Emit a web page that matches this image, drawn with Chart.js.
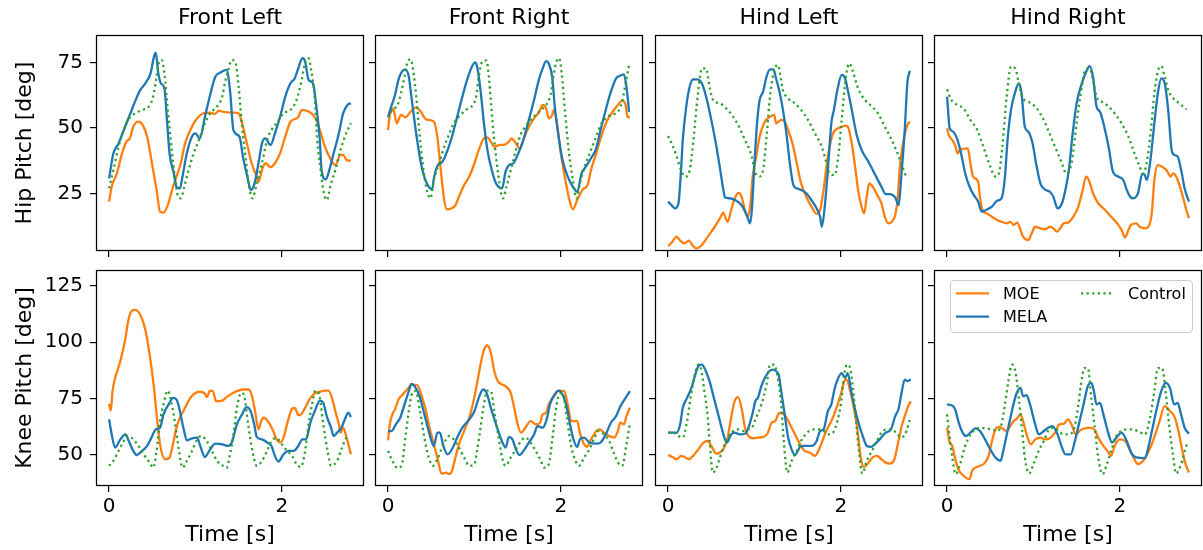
<!DOCTYPE html>
<html>
<head>
<meta charset="utf-8">
<script src="https://cdn.jsdelivr.net/npm/chart.js@4.4.1/dist/chart.umd.min.js"></script>
<style>
  body { margin: 0; width: 1203px; height: 550px; overflow: hidden; background: #fff; position: relative; font-family: 'DejaVu Sans', sans-serif; }
  canvas { position: absolute; }
  #legend { position: absolute; left: 950px; top: 280px; width: 243px; height: 53px; box-sizing: border-box;
            border: 1px solid #cccccc; border-radius: 4px; background: rgba(255,255,255,0.8); z-index: 5; }
</style>
</head>
<body>
<div id="legend"></div>
<script>
// ---- data: [time s, angle deg] ----
const timeTicks = [0, 2];
const hipTicks = [25, 50, 75];
const kneeTicks = [50, 75, 100, 125];
const legTitles = ['Front Left', 'Front Right', 'Hind Left', 'Hind Right'];
const rowLabels = ['Hip Pitch [deg]', 'Knee Pitch [deg]'];
const seriesNames = ['MOE', 'MELA', 'Control'];
const seriesColors = ['#ff7f0e', '#1f77b4', '#2ca02c'];

const flHipMoe = [[0,21.8],[0.03,27.5],[0.09,32.6],[0.15,40.3],[0.2,44.8],[0.24,46],[0.28,50.5],[0.34,52.4],[0.39,51.1],[0.44,46.7],[0.49,37.7],[0.55,26.3],[0.59,18],[0.63,17.6],[0.68,20.5],[0.73,26.3],[0.78,31.4],[0.83,36.5],[0.88,44.1],[0.94,49.2],[1.02,53.7],[1.09,55.6],[1.17,55.9],[1.22,55.3],[1.27,56.6],[1.32,56.2],[1.44,55.9],[1.5,55.6],[1.55,50.5],[1.6,43.5],[1.65,36.5],[1.71,31.4],[1.73,29.4],[1.77,33.9],[1.81,36.5],[1.87,35],[1.92,36.5],[1.98,40.3],[2.04,46.7],[2.1,52.4],[2.19,54.1],[2.23,56.9],[2.33,55.9],[2.39,53.7],[2.44,49.2],[2.5,42.8],[2.56,38.4],[2.62,35.8],[2.68,39.7],[2.71,39.7],[2.75,37.7],[2.8,37.5]];
const flHipMela = [[0,30.7],[0.05,40.3],[0.11,44.1],[0.17,49.2],[0.24,55],[0.3,60.1],[0.36,64.5],[0.42,67.1],[0.48,70.9],[0.52,77.3],[0.54,78.8],[0.57,70.9],[0.6,67.1],[0.64,65.2],[0.67,53.1],[0.7,40.3],[0.75,32.6],[0.78,27.5],[0.82,26.9],[0.85,31.4],[0.9,40.3],[0.96,46.7],[1,47.9],[1.05,46],[1.11,54.3],[1.17,62.6],[1.23,69.6],[1.29,71.2],[1.36,72.2],[1.4,64.5],[1.44,49.2],[1.51,46.7],[1.55,39],[1.6,31.4],[1.64,26.3],[1.68,28.2],[1.73,36.5],[1.77,44.1],[1.81,46],[1.87,43.5],[1.92,47.9],[1.98,54.3],[2.04,62],[2.1,67.1],[2.15,69],[2.19,72.8],[2.24,76.7],[2.27,75.4],[2.31,68.4],[2.36,67.1],[2.4,58.2],[2.44,45.4],[2.46,33.9],[2.51,30.3],[2.55,33.9],[2.6,40.3],[2.66,47.9],[2.71,55.6],[2.76,58.8],[2.8,59.4]];
const flHipCtrl = [[0,26.9],[0.05,33.9],[0.11,42.8],[0.17,49.2],[0.22,53.1],[0.3,55.6],[0.38,56.9],[0.46,58.2],[0.51,62],[0.55,69.6],[0.58,75.4],[0.61,76],[0.64,70.9],[0.68,56.9],[0.73,40.3],[0.76,31.4],[0.8,23.7],[0.83,23.1],[0.87,27.5],[0.92,33.9],[0.98,40.3],[1.04,45.4],[1.11,51.8],[1.17,55.6],[1.25,58.2],[1.31,62],[1.34,67.1],[1.38,72.2],[1.42,76],[1.46,75.4],[1.5,65.8],[1.54,50.5],[1.58,39],[1.61,30.1],[1.66,23.1],[1.71,28.8],[1.77,36.5],[1.83,45.4],[1.88,49.2],[1.94,51.8],[2.02,55.6],[2.1,56.9],[2.17,60.7],[2.23,68.4],[2.27,75.4],[2.31,76.7],[2.34,72.2],[2.38,62],[2.41,45.4],[2.45,33.9],[2.48,26.3],[2.52,22.4],[2.57,28.8],[2.62,33.9],[2.68,41.6],[2.73,46.7],[2.8,51.8]];

const frHipMoe = [[0,49.2],[0.02,55],[0.06,57.5],[0.1,51.8],[0.15,55],[0.2,54.1],[0.26,56.2],[0.32,57.9],[0.38,56.2],[0.44,53.3],[0.53,52.4],[0.57,46.7],[0.61,33.9],[0.65,22.4],[0.68,18.9],[0.73,19.2],[0.78,20.5],[0.82,23.7],[0.88,28.2],[0.94,31.4],[1,36.5],[1.05,41.6],[1.11,46],[1.15,46.4],[1.19,44.8],[1.23,42.8],[1.29,43.5],[1.34,43.5],[1.4,44.8],[1.43,46],[1.48,44.1],[1.52,42.2],[1.58,46.7],[1.63,50.5],[1.69,53.7],[1.75,56.2],[1.79,58.8],[1.83,57.5],[1.86,53.7],[1.9,55],[1.92,56.9],[1.95,53.1],[2,40.3],[2.06,28.8],[2.1,22.4],[2.14,18.9],[2.19,22.4],[2.25,26.3],[2.31,28.2],[2.35,33.9],[2.41,40.3],[2.48,48],[2.54,53.1],[2.6,56.2],[2.66,58.8],[2.71,60.5],[2.75,58.8],[2.77,54.3],[2.8,54.1]];
const frHipMela = [[0,54.1],[0.03,57.5],[0.08,62.6],[0.12,68.4],[0.16,71.6],[0.2,72.4],[0.24,69.6],[0.27,62],[0.32,49.2],[0.38,36.5],[0.44,29.4],[0.51,26.5],[0.53,30.7],[0.57,35.4],[0.63,37.1],[0.69,41.6],[0.75,47.9],[0.8,54.3],[0.86,62],[0.92,69],[0.98,74.1],[1.01,75.1],[1.03,73.5],[1.07,64.5],[1.11,51.8],[1.15,41.6],[1.2,33.9],[1.25,28.8],[1.32,26.9],[1.36,33.3],[1.4,35.8],[1.45,36.5],[1.5,39.7],[1.56,44.8],[1.63,53.1],[1.69,60.7],[1.75,69],[1.79,72.8],[1.83,75.6],[1.86,74.7],[1.9,69.6],[1.93,58.2],[1.98,45.4],[2.02,37.7],[2.08,31.4],[2.14,27.5],[2.19,25.6],[2.24,32.6],[2.29,35.2],[2.35,38.4],[2.41,42.2],[2.46,49.2],[2.52,56.9],[2.58,63.9],[2.64,69],[2.68,69.9],[2.73,70.5],[2.76,65.8],[2.79,56.2]];
const frHipCtrl = [[0,54.1],[0.05,56.9],[0.11,58.8],[0.15,63.3],[0.19,69.6],[0.22,74.7],[0.26,76.3],[0.29,72.2],[0.33,60.7],[0.36,49.2],[0.4,36.5],[0.44,27.5],[0.49,23.1],[0.53,30.1],[0.59,36.5],[0.65,42.8],[0.71,47.9],[0.76,51.8],[0.82,54.3],[0.9,56.9],[0.98,58.8],[1.02,62],[1.05,69.6],[1.09,75.4],[1.14,75.8],[1.17,68.4],[1.21,51.8],[1.25,39],[1.29,28.8],[1.33,23.1],[1.37,27.5],[1.42,33.9],[1.48,41.6],[1.54,47.9],[1.59,50.5],[1.65,53.1],[1.71,55],[1.77,56.9],[1.83,58.8],[1.88,62.6],[1.92,70.9],[1.95,75.4],[1.98,76.7],[2.01,70.9],[2.05,55.6],[2.1,39],[2.14,30.1],[2.18,23.1],[2.23,30.1],[2.29,36.5],[2.35,41.6],[2.41,46.7],[2.46,51.1],[2.52,53.7],[2.58,55],[2.66,56.2],[2.71,60.1],[2.75,67.1],[2.79,74.1]];

const hlHipMoe = [[0,4.8],[0.04,6.1],[0.1,8.4],[0.14,6.9],[0.19,5.8],[0.24,6.9],[0.29,4.8],[0.33,3.9],[0.39,5.2],[0.46,8.4],[0.54,12.2],[0.6,15.4],[0.64,17.6],[0.66,16],[0.69,14.1],[0.73,18.6],[0.78,23.7],[0.82,25.2],[0.85,23.7],[0.89,18.6],[0.92,16],[0.95,19.9],[0.98,31.4],[1.02,39],[1.06,46.7],[1.12,52.4],[1.18,54.3],[1.23,55],[1.25,51.8],[1.31,53.1],[1.35,52.4],[1.39,49.2],[1.44,44.1],[1.49,36.5],[1.54,28.8],[1.6,23.7],[1.66,19.9],[1.72,17.1],[1.76,18.6],[1.8,26.3],[1.85,39],[1.91,47.9],[1.97,49.9],[2.05,50.8],[2.08,50.5],[2.12,45.4],[2.16,36.5],[2.2,26.3],[2.24,19.9],[2.27,17.3],[2.3,23.7],[2.33,28.8],[2.37,27.5],[2.41,25],[2.47,21.2],[2.51,16],[2.55,13.5],[2.59,14.1],[2.63,16.7],[2.66,23.7],[2.68,33.9],[2.72,44.1],[2.77,51.1],[2.8,52.4]];
const hlHipMela = [[0,21.8],[0.04,20.5],[0.08,19.2],[0.12,21.2],[0.15,33.9],[0.17,45.4],[0.21,58.2],[0.25,65.8],[0.29,68.6],[0.34,68.6],[0.39,67.1],[0.44,62],[0.5,53.1],[0.56,42.8],[0.61,32.6],[0.64,26.3],[0.66,23.4],[0.71,23.1],[0.79,22.2],[0.85,20.5],[0.91,16.7],[0.95,13.5],[0.97,18.6],[1,36.5],[1.03,51.8],[1.06,60.7],[1.1,63.9],[1.14,69.6],[1.18,72.4],[1.22,72.4],[1.25,69],[1.29,63.9],[1.33,56.9],[1.37,47.9],[1.41,36.5],[1.45,28.2],[1.49,26.9],[1.54,26.3],[1.6,25],[1.66,22.4],[1.72,19.2],[1.76,16],[1.78,12.2],[1.81,18.6],[1.85,33.9],[1.89,51.8],[1.92,56.9],[1.96,64.5],[2.01,70.3],[2.05,69],[2.08,64.5],[2.12,58.2],[2.18,47.9],[2.24,41.6],[2.32,37.1],[2.39,32.6],[2.47,27.5],[2.52,24.7],[2.57,24.7],[2.63,23.4],[2.67,20.5],[2.7,31.4],[2.74,49.2],[2.77,67.1],[2.8,71.9]];
const hlHipCtrl = [[0,46.9],[0.05,43.5],[0.1,39],[0.15,33.9],[0.2,31.4],[0.25,33.9],[0.29,44.1],[0.33,58.2],[0.37,69.6],[0.39,72.8],[0.44,72.8],[0.48,65.8],[0.52,60.7],[0.6,59.4],[0.69,56.9],[0.79,52.4],[0.89,45.4],[0.97,39],[1,33.9],[1.05,31.4],[1.1,33.9],[1.14,46.7],[1.18,62],[1.22,70.9],[1.27,74.1],[1.33,64.5],[1.39,61.3],[1.47,59.4],[1.54,56.9],[1.62,53.1],[1.7,47.9],[1.78,42.8],[1.83,37.1],[1.87,32.6],[1.93,32],[1.97,39],[2.01,53.1],[2.05,67.1],[2.08,73.5],[2.1,74.7],[2.14,71.6],[2.2,65.2],[2.28,60.7],[2.36,58.2],[2.43,55.6],[2.51,50.5],[2.59,45.4],[2.64,41.6],[2.7,36.5],[2.74,32.6],[2.78,31.1]];

const hrHipMoe = [[0,49.9],[0.02,47.3],[0.06,45.4],[0.1,42.8],[0.12,40.3],[0.15,41.6],[0.24,42.2],[0.27,36.5],[0.3,31.4],[0.36,29.4],[0.38,23.7],[0.41,18.6],[0.46,17.3],[0.52,16],[0.58,14.8],[0.63,14.1],[0.69,13.5],[0.73,14.1],[0.77,12.9],[0.81,13.8],[0.85,11],[0.88,8.4],[0.94,7.1],[0.98,9.7],[1.02,12.2],[1.08,11.6],[1.13,11.2],[1.19,12.2],[1.23,11.6],[1.27,10.3],[1.31,11.6],[1.35,13.5],[1.4,13.8],[1.46,16],[1.52,19.9],[1.57,26.3],[1.61,31.4],[1.64,30.1],[1.69,25],[1.75,21.2],[1.83,18.6],[1.9,16],[1.97,13.5],[2.02,11],[2.06,8.1],[2.1,11],[2.13,12.9],[2.19,13.5],[2.23,12.2],[2.29,11.6],[2.33,12.2],[2.37,17.3],[2.4,30.1],[2.44,35.8],[2.49,35.2],[2.54,33.9],[2.59,31.4],[2.62,32.6],[2.67,30.1],[2.73,23.7],[2.77,18.6],[2.8,15.4]];
const hrHipMela = [[0,62],[0.03,49.9],[0.07,48.6],[0.12,45.4],[0.17,39],[0.21,32.6],[0.26,27.5],[0.31,24.3],[0.36,21.8],[0.4,18],[0.45,18.6],[0.52,19.9],[0.58,22.2],[0.63,23.1],[0.67,31.4],[0.7,45.4],[0.74,56.9],[0.79,63.9],[0.83,67.1],[0.86,63.9],[0.9,50.5],[0.94,48.6],[0.99,44.1],[1.03,36.5],[1.08,28.8],[1.13,26.5],[1.19,25.6],[1.23,23.7],[1.28,19.2],[1.33,21.2],[1.37,26.3],[1.41,33.9],[1.45,46.7],[1.5,59.4],[1.56,67.1],[1.62,72.2],[1.65,73.7],[1.69,69.6],[1.73,58.2],[1.77,56.2],[1.82,50.5],[1.87,42.8],[1.92,33.3],[1.98,31.4],[2.04,30.1],[2.08,26.3],[2.12,23.7],[2.15,23.1],[2.21,25],[2.26,32.4],[2.29,32],[2.31,30.1],[2.35,36.5],[2.4,51.8],[2.44,63.3],[2.48,69],[2.52,67.1],[2.56,56.9],[2.6,41.6],[2.63,39.7],[2.67,39],[2.71,33.9],[2.75,26.9],[2.8,21.8]];
const hrHipCtrl = [[0,64.8],[0.05,60.7],[0.12,58.8],[0.19,57.5],[0.27,53.1],[0.35,49.2],[0.42,42.8],[0.5,35.2],[0.56,31.4],[0.6,32.6],[0.64,42.8],[0.69,62],[0.74,73.5],[0.79,72.8],[0.83,67.1],[0.88,61.3],[0.94,60.1],[1.02,58.2],[1.1,54.3],[1.17,49.2],[1.25,42.8],[1.33,36.5],[1.38,32.6],[1.44,36.5],[1.5,51.8],[1.56,65.8],[1.6,72.2],[1.65,72.8],[1.69,68.4],[1.73,62],[1.79,60.1],[1.87,58.2],[1.94,55.6],[2.02,51.8],[2.1,46.7],[2.17,40.3],[2.23,35.2],[2.27,32.6],[2.31,36.5],[2.36,49.2],[2.4,63.3],[2.44,71.6],[2.48,73.7],[2.52,69.6],[2.56,64.5],[2.62,61.3],[2.69,59.4],[2.77,57.1]];

const flKneeMoe = [[0,72.7],[0.02,69.7],[0.04,78.3],[0.07,84.1],[0.13,91.5],[0.19,101.8],[0.22,109.1],[0.26,113.8],[0.3,114.3],[0.36,112.1],[0.42,105.4],[0.47,94.4],[0.52,79.7],[0.55,68],[0.59,54.7],[0.65,48.1],[0.7,48.9],[0.74,54.7],[0.78,62.1],[0.82,66.5],[0.88,70.9],[0.94,75.3],[1,77.5],[1.05,78],[1.11,77.1],[1.13,75.6],[1.17,78.5],[1.2,78.3],[1.24,73.8],[1.31,74.1],[1.36,75.6],[1.42,77.1],[1.48,78.3],[1.55,79],[1.61,79],[1.65,76.8],[1.69,69.4],[1.73,61.3],[1.76,65],[1.79,66.5],[1.85,64.3],[1.9,60.6],[1.94,56.9],[1.98,55.5],[2.02,57.7],[2.07,65],[2.12,70.6],[2.15,70.9],[2.19,67.7],[2.21,67.7],[2.27,70.9],[2.33,75.3],[2.39,77.5],[2.44,78],[2.5,78.5],[2.54,78.5],[2.58,75.3],[2.62,69.4],[2.66,63.6],[2.68,59.9],[2.71,62.1],[2.75,57.7],[2.8,50.3]];
const flKneeMela = [[0,65.8],[0.03,59.1],[0.07,53.3],[0.13,56.9],[0.19,59.1],[0.22,56.9],[0.28,51.8],[0.32,50],[0.38,51.8],[0.44,54],[0.49,57.7],[0.54,61.3],[0.59,62.1],[0.63,68],[0.69,72.4],[0.74,75.3],[0.78,74.6],[0.82,69.4],[0.86,62.1],[0.9,56.5],[0.96,57.4],[1.02,57.7],[1.05,54.7],[1.11,49.1],[1.16,51.8],[1.23,55],[1.31,54.7],[1.38,54],[1.42,55.5],[1.48,63.6],[1.54,68],[1.59,71.2],[1.64,69.4],[1.68,63.6],[1.71,58],[1.77,56.9],[1.83,55.5],[1.88,54],[1.92,49.6],[1.96,47.1],[2.02,50.3],[2.08,51.8],[2.14,51.8],[2.19,54],[2.24,56.9],[2.28,56.9],[2.33,64.3],[2.39,70.2],[2.44,74.1],[2.48,73.1],[2.52,67.2],[2.57,62.1],[2.6,58.4],[2.64,59.9],[2.69,62.1],[2.73,65.8],[2.77,68.7],[2.8,66.8]];
const flKneeCtrl = [[0,45.2],[0.05,47.4],[0.11,51.8],[0.17,56.2],[0.22,58.4],[0.28,56.9],[0.34,54],[0.4,50.3],[0.47,46.6],[0.51,44.4],[0.55,51.8],[0.59,65],[0.63,72.4],[0.68,78.5],[0.71,75.3],[0.76,65],[0.81,51.8],[0.85,44.4],[0.9,47.4],[0.96,51.8],[1.02,56.9],[1.07,58.4],[1.13,56.2],[1.19,51.8],[1.25,47.4],[1.32,45.2],[1.36,44.2],[1.4,50.3],[1.44,59.1],[1.48,70.9],[1.53,77.5],[1.56,76.8],[1.61,63.6],[1.66,51.8],[1.71,45.2],[1.77,47.4],[1.83,51.8],[1.88,56.2],[1.94,57.4],[2,54.7],[2.06,51.8],[2.12,49.6],[2.17,45.9],[2.22,44.7],[2.27,51.8],[2.31,63.6],[2.35,72.4],[2.39,78.5],[2.44,75.3],[2.48,63.6],[2.53,51.8],[2.57,45.2],[2.64,47.4],[2.69,52.5],[2.75,57.7],[2.79,58]];

const frKneeMoe = [[0,56.5],[0.02,63.6],[0.05,68],[0.08,70.2],[0.12,74.6],[0.17,76.8],[0.22,79],[0.28,81.2],[0.34,80.9],[0.39,76],[0.44,69.4],[0.47,63.6],[0.52,56.2],[0.57,48.9],[0.62,41.8],[0.67,42.2],[0.71,41.5],[0.74,43],[0.78,48.9],[0.82,54.7],[0.88,60.6],[0.94,66.5],[0.98,72.4],[1.02,79.7],[1.07,90],[1.11,96.6],[1.15,98.5],[1.19,95.2],[1.23,87.1],[1.27,82.7],[1.32,81.2],[1.36,80.5],[1.42,77.5],[1.46,70.9],[1.5,63.6],[1.54,59.9],[1.59,62.1],[1.65,65],[1.71,63.6],[1.76,64.3],[1.79,68],[1.83,68.7],[1.86,72.4],[1.92,76],[1.98,78.5],[2.04,78.3],[2.08,72.4],[2.12,65],[2.19,65],[2.22,59.9],[2.26,55.5],[2.3,53.6],[2.35,56.9],[2.41,60.6],[2.45,61.3],[2.5,59.9],[2.56,58.4],[2.62,57.7],[2.66,60.6],[2.69,64.3],[2.73,63.6],[2.76,67.2],[2.8,70.9]];
const frKneeMela = [[0,60.6],[0.04,60.6],[0.09,63.6],[0.14,66.5],[0.19,72.4],[0.24,78.3],[0.27,81.5],[0.32,79.7],[0.37,75.3],[0.42,68],[0.47,60.6],[0.53,54],[0.57,59.9],[0.6,59.9],[0.64,54],[0.69,50.3],[0.75,53.3],[0.8,57.7],[0.86,62.1],[0.94,65.8],[1,69.4],[1.05,75.3],[1.1,79],[1.14,77.5],[1.19,70.9],[1.25,63.6],[1.31,56.9],[1.36,53.3],[1.4,58],[1.44,56.9],[1.48,52.5],[1.52,50],[1.58,52.5],[1.63,55.5],[1.69,59.1],[1.73,62.8],[1.79,62.1],[1.83,65],[1.88,73.1],[1.94,77.5],[1.97,78.5],[2.02,76.8],[2.06,72.4],[2.1,65],[2.14,57.7],[2.19,53.6],[2.22,56.9],[2.27,57.7],[2.33,55.5],[2.41,55],[2.46,55.5],[2.52,59.1],[2.58,64.3],[2.64,67.2],[2.69,71.6],[2.75,75.3],[2.8,78.3]];
const frKneeCtrl = [[0,51.8],[0.05,47.4],[0.11,44.2],[0.16,45.9],[0.2,57.7],[0.24,69.4],[0.28,77.5],[0.32,78.3],[0.37,69.4],[0.42,57.7],[0.47,48.9],[0.52,45.2],[0.57,48.1],[0.64,54.7],[0.71,58.4],[0.76,56.9],[0.82,53.3],[0.88,48.9],[0.94,45.2],[1,45.9],[1.03,51.8],[1.07,62.1],[1.11,72.4],[1.15,78.5],[1.19,78.3],[1.23,69.4],[1.28,57.7],[1.32,48.9],[1.36,45.2],[1.42,48.9],[1.48,52.5],[1.54,56.2],[1.59,57.7],[1.65,55.5],[1.71,51.8],[1.76,48.1],[1.81,44.4],[1.86,45.9],[1.9,56.2],[1.94,69.4],[1.98,76.8],[2.02,77.5],[2.07,66.5],[2.12,54],[2.17,47.4],[2.21,45.2],[2.27,48.9],[2.33,52.5],[2.39,57.7],[2.44,60.6],[2.5,59.1],[2.56,56.2],[2.62,50.3],[2.67,46.2],[2.71,45.2],[2.76,54.7],[2.8,63.8]];

const hlKneeMoe = [[0,50],[0.05,49.1],[0.1,48.1],[0.15,49.6],[0.19,49.1],[0.24,48.1],[0.29,49.6],[0.35,52.5],[0.41,55.5],[0.46,56.2],[0.5,54],[0.56,50.6],[0.6,51.1],[0.65,53.3],[0.69,57.7],[0.73,66.5],[0.77,73.8],[0.81,75.6],[0.85,70.9],[0.89,62.1],[0.93,58.4],[0.98,57.4],[1.04,57.7],[1.1,58],[1.15,59.4],[1.2,64.3],[1.24,65],[1.28,68.3],[1.31,68.7],[1.36,67.2],[1.41,63.6],[1.47,59.1],[1.53,54.7],[1.58,51.8],[1.64,51.1],[1.7,49.6],[1.74,51.8],[1.78,55.5],[1.83,60.6],[1.89,65],[1.95,70.9],[2,76.8],[2.04,82.7],[2.07,83.4],[2.1,79.7],[2.15,70.9],[2.19,62.1],[2.23,48.9],[2.27,44.7],[2.32,46.6],[2.37,48.9],[2.42,49.6],[2.47,48.1],[2.52,46.6],[2.57,46.2],[2.62,48.1],[2.66,54.7],[2.7,62.1],[2.74,67.2],[2.78,71.6],[2.81,73.8]];
const hlKneeMela = [[0,59.9],[0.1,59.9],[0.14,63.6],[0.17,70.9],[0.22,75.3],[0.27,79.7],[0.31,84.9],[0.35,89.3],[0.39,90],[0.43,87.8],[0.48,82.7],[0.53,75.3],[0.58,68],[0.63,60.6],[0.68,55.5],[0.73,59.1],[0.77,59.9],[0.83,59.1],[0.89,59.4],[0.93,62.1],[0.98,68.7],[1.01,73.8],[1.04,75.3],[1.08,80.5],[1.12,84.1],[1.17,87.1],[1.22,87.8],[1.25,87.1],[1.28,85.6],[1.31,78.3],[1.35,68],[1.39,57.7],[1.43,52.5],[1.47,50],[1.53,53.6],[1.58,54],[1.66,54],[1.72,56.2],[1.76,60.6],[1.8,61.3],[1.85,69.4],[1.89,72.4],[1.93,79.7],[1.97,84.1],[2.01,86.3],[2.05,84.1],[2.08,86.3],[2.12,78.3],[2.16,70.9],[2.21,63.6],[2.26,57.7],[2.3,54],[2.35,53.6],[2.39,54.7],[2.45,56.9],[2.52,59.9],[2.58,61.3],[2.63,67.2],[2.67,70.6],[2.7,76.8],[2.74,83.4],[2.77,82.7],[2.81,83.4]];
const hlKneeCtrl = [[0,59.9],[0.06,59.9],[0.12,58.4],[0.17,57.7],[0.22,65],[0.26,75.3],[0.31,85.6],[0.35,90],[0.38,88.5],[0.42,78.3],[0.46,66.5],[0.48,56.2],[0.52,42.2],[0.56,44.4],[0.6,48.9],[0.65,54],[0.69,57.7],[0.75,60.6],[0.81,61.3],[0.87,60.6],[0.92,61.3],[0.97,62.1],[1.02,66.5],[1.08,72.4],[1.14,81.2],[1.18,90],[1.23,90],[1.27,84.1],[1.31,72.4],[1.34,56.2],[1.38,42.2],[1.43,47.4],[1.49,51.8],[1.54,56.2],[1.61,59.9],[1.68,61.3],[1.74,61.3],[1.8,60.6],[1.85,59.1],[1.91,59.9],[1.96,65],[2,72.4],[2.04,85.6],[2.07,90],[2.1,89.3],[2.14,79.7],[2.18,63.6],[2.21,51.8],[2.25,41.8],[2.3,47.4],[2.36,51.8],[2.41,55.5],[2.47,59.9],[2.53,61.3],[2.59,61.3],[2.64,59.9],[2.7,57.7],[2.76,60.6],[2.8,65.8]];

const hrKneeMoe = [[0,62.1],[0.03,55.5],[0.06,54],[0.09,48.9],[0.13,43.7],[0.19,40.8],[0.26,39.3],[0.29,43],[0.33,44.4],[0.38,45.2],[0.44,46.6],[0.48,49.6],[0.52,56.2],[0.56,61.3],[0.6,62.4],[0.64,61.8],[0.69,60.6],[0.73,62.8],[0.77,65],[0.81,66.2],[0.85,68],[0.88,65],[0.92,59.1],[0.97,54.7],[1.02,56.9],[1.08,57.7],[1.13,56.9],[1.19,57.4],[1.25,59.9],[1.3,63.6],[1.35,63.8],[1.4,65.8],[1.44,63.6],[1.49,59.1],[1.54,60.9],[1.6,61.8],[1.65,62.1],[1.71,61.1],[1.75,57.7],[1.81,54],[1.87,51.1],[1.9,49.6],[1.94,54],[2,56.9],[2.06,56.2],[2.1,53.6],[2.15,49.6],[2.21,45.9],[2.27,47.4],[2.32,50.6],[2.37,54.7],[2.41,59.1],[2.46,65],[2.52,71.6],[2.58,69.4],[2.63,67.2],[2.67,62.1],[2.71,54.7],[2.75,47.4],[2.8,42.2]];
const hrKneeMela = [[0,72.4],[0.07,71.6],[0.1,69.4],[0.13,65],[0.18,59.9],[0.22,58.4],[0.27,59.9],[0.33,61.8],[0.38,60.6],[0.44,56.9],[0.5,52.5],[0.56,48.9],[0.62,47.4],[0.65,51.8],[0.7,60.6],[0.75,69.4],[0.8,76.8],[0.85,79.7],[0.88,76],[0.92,76.5],[0.96,72.4],[1.02,63.6],[1.06,59.1],[1.12,60.6],[1.17,62.1],[1.22,62.8],[1.28,59.1],[1.33,53.3],[1.37,50.3],[1.43,50.3],[1.48,56.2],[1.53,64.3],[1.58,72.4],[1.63,80.5],[1.67,81.9],[1.7,78.3],[1.73,72.4],[1.77,73.1],[1.81,68],[1.86,60.6],[1.91,55.5],[1.96,57.7],[2.02,59.9],[2.08,56.2],[2.13,51.1],[2.19,48.9],[2.29,48.6],[2.33,53.3],[2.38,62.1],[2.43,70.9],[2.48,78.3],[2.53,81.9],[2.58,79.7],[2.63,72.4],[2.67,73.1],[2.7,69.4],[2.75,62.1],[2.8,59.4]];
const hrKneeCtrl = [[0,68],[0.03,57.7],[0.06,48.9],[0.1,41.5],[0.15,45.9],[0.21,54],[0.27,59.1],[0.33,61.3],[0.38,62.1],[0.44,61.8],[0.52,61.3],[0.58,60.6],[0.63,63.6],[0.67,72.4],[0.71,82.7],[0.75,90],[0.79,87.1],[0.83,75.3],[0.87,60.6],[0.9,48.9],[0.95,41.8],[1,45.9],[1.06,51.8],[1.12,56.2],[1.17,60.6],[1.23,62.1],[1.29,60.6],[1.35,59.1],[1.4,59.1],[1.46,60.6],[1.51,69.4],[1.55,81.2],[1.59,88.5],[1.63,88.5],[1.67,75.3],[1.71,62.1],[1.75,48.9],[1.8,41.5],[1.85,45.9],[1.9,51.8],[1.96,58.4],[2.02,60.6],[2.08,61.3],[2.13,61.3],[2.21,60.6],[2.29,59.1],[2.35,66.5],[2.4,78.3],[2.44,88.5],[2.49,88.5],[2.53,78.3],[2.57,63.6],[2.62,48.9],[2.65,41.8],[2.71,45.9],[2.77,54],[2.79,55.5]];

const panels = [
  [flHipMoe, flHipMela, flHipCtrl], [frHipMoe, frHipMela, frHipCtrl],
  [hlHipMoe, hlHipMela, hlHipCtrl], [hrHipMoe, hrHipMela, hrHipCtrl],
  [flKneeMoe, flKneeMela, flKneeCtrl], [frKneeMoe, frKneeMela, frKneeCtrl],
  [hlKneeMoe, hlKneeMela, hlKneeCtrl], [hrKneeMoe, hrKneeMela, hrKneeCtrl]
];

// ---- layout ----
const colLeft = [97, 376, 656, 935];
const rowTop = [36, 271];
const plotW = 266, plotH = 214, axW = 97, axH = 65, topH = 36, padR = 3;
const xRange = [-0.14, 2.94];
const yRange = [[3.3, 85.2], [36.7, 131.5]];
const rowTicks = [hipTicks, kneeTicks];

Chart.defaults.font.family = "'DejaVu Sans', sans-serif";
Chart.defaults.color = '#000';

// full box round each plot, drawn over the lines like matplotlib spines
const frame = {
  id: 'frame',
  afterDatasetsDraw(chart) {
    const a = chart.chartArea, ctx = chart.ctx;
    ctx.save();
    ctx.strokeStyle = '#000';
    ctx.lineWidth = 1.25;
    ctx.strokeRect(a.left - 0.5, a.top - 0.5, a.right - a.left + 1, a.bottom - a.top + 1);
    ctx.restore();
  }
};

panels.forEach((series, i) => {
  const r = Math.floor(i / 4), c = i % 4;
  const cv = document.createElement('canvas');
  cv.width = axW + plotW + padR;
  cv.height = topH + plotH + axH;
  cv.style.left = (colLeft[c] - axW) + 'px';
  cv.style.top = (rowTop[r] - topH) + 'px';
  document.body.appendChild(cv);

  const tickGrid = { drawOnChartArea: false, drawTicks: true, tickLength: 7, color: '#000', lineWidth: 1.2 };

  new Chart(cv, {
    type: 'line',
    data: {
      datasets: series.map((d, k) => ({
        label: seriesNames[k],
        data: d,
        borderColor: seriesColors[k],
        backgroundColor: seriesColors[k],
        borderDash: k === 2 ? [2.2, 3.4] : [],
        order: 3 - k
      }))
    },
    options: {
      responsive: false,
      animation: false,
      devicePixelRatio: 1,
      elements: {
        line: { borderWidth: 2.3, cubicInterpolationMode: 'monotone', borderCapStyle: 'butt' },
        point: { radius: 0 }
      },
      layout: { padding: { left: 0, right: padR, top: r === 0 ? 0 : topH, bottom: 0 } },
      plugins: {
        legend: { display: false },
        tooltip: { enabled: false },
        title: {
          display: r === 0, text: legTitles[c], fullSize: false,
          font: { size: 22, weight: 'normal' }, color: '#000',
          padding: { top: 5, bottom: 4.6 }
        }
      },
      scales: {
        x: {
          type: 'linear', min: xRange[0], max: xRange[1],
          afterBuildTicks: s => { s.ticks = timeTicks.map(v => ({ value: v })); },
          afterFit: s => { s.height = axH; },
          grid: tickGrid, border: { display: false },
          ticks: { display: r === 1, font: { size: 20 }, color: '#000', padding: 3, maxRotation: 0 },
          title: { display: r === 1, text: 'Time [s]', font: { size: 22 }, color: '#000', padding: { top: 0, bottom: 1.5 } }
        },
        y: {
          type: 'linear', min: yRange[r][0], max: yRange[r][1],
          afterBuildTicks: s => { s.ticks = rowTicks[r].map(v => ({ value: v })); },
          afterFit: s => { s.width = axW; },
          grid: tickGrid, border: { display: false },
          ticks: { display: c === 0, font: { size: 20 }, color: '#000', padding: 7 },
          title: { display: c === 0, text: rowLabels[r], font: { size: 22 }, color: '#000', padding: { top: 11.8, bottom: 0 } }
        }
      }
    },
    plugins: [frame]
  });
});

// ---- legend (two columns, inside the Hind Right knee panel) ----
const legendSlots = [[6, 13.3], [6, 36.7], [131, 13.3]];
let svg = '<svg width="243" height="53" style="position:absolute;left:-1px;top:-1px">';
seriesNames.forEach((name, k) => {
  const [lx, ly] = legendSlots[k];
  svg += `<line x1="${lx}" y1="${ly}" x2="${lx + 33}" y2="${ly}" stroke="${seriesColors[k]}" stroke-width="2.3"` +
         (k === 2 ? ' stroke-dasharray="2.2 3.4"' : '') + '/>';
  svg += `<text x="${lx + 47}" y="${ly}" dominant-baseline="central" font-size="16" font-family="DejaVu Sans" fill="#000">${name}</text>`;
});
svg += '</svg>';
document.getElementById('legend').innerHTML = svg;
</script>
</body>
</html>
